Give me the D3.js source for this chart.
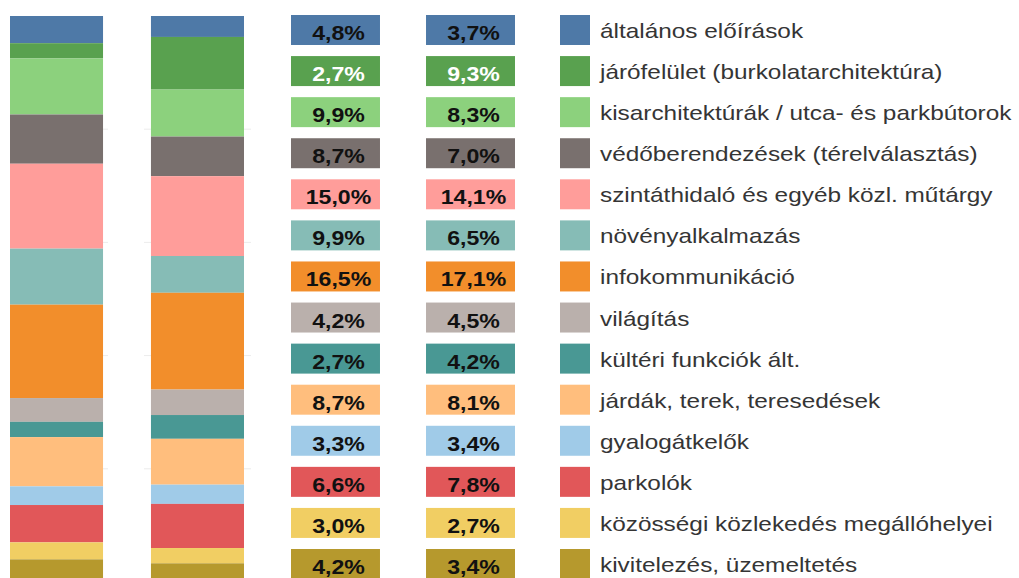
<!DOCTYPE html>
<html>
<head>
<meta charset="utf-8">
<title>Stacked shares</title>
<script src="https://d3js.org/d3.v7.min.js"></script>
<style>
  body { margin: 0; background: #fff; }
  svg { display: block; }
</style>
</head>
<body>
<div id="chart"></div>
<script>

// categories, top to bottom
var categories = [
  "általános előírások",
  "járófelület (burkolatarchitektúra)",
  "kisarchitektúrák / utca- és parkbútorok",
  "védőberendezések (térelválasztás)",
  "szintáthidaló és egyéb közl. műtárgy",
  "növényalkalmazás",
  "infokommunikáció",
  "világítás",
  "kültéri funkciók ált.",
  "járdák, terek, teresedések",
  "gyalogátkelők",
  "parkolók",
  "közösségi közlekedés megállóhelyei",
  "kivitelezés, üzemeltetés"
];
var leftValues  = [4.8, 2.7, 9.9, 8.7, 15.0, 9.9, 16.5, 4.2, 2.7, 8.7, 3.3, 6.6, 3.0, 4.2];
var rightValues = [3.7, 9.3, 8.3, 7.0, 14.1, 6.5, 17.1, 4.5, 4.2, 8.1, 3.4, 7.8, 2.7, 3.4];
var gridTicks = [20, 40, 60, 80];

var palette = ["#4E79A7", "#59A14F", "#8CD17D", "#79706E", "#FF9D9A", "#86BCB6", "#F28E2B",
               "#BAB0AC", "#499894", "#FFBE7D", "#A0CBE8", "#E15759", "#F1CE63", "#B6992D"];

var W = 1019, H = 578;
var svg = d3.select("#chart").append("svg").attr("width", W).attr("height", H);

var color = d3.scaleOrdinal().domain(categories).range(palette);
var y = d3.scaleLinear().domain([0, 100]).range([16, 582]);
var x = d3.scaleBand().domain(["left", "right"]).range([10, 244]).paddingInner(0.34);

// faint grid stubs beside the bars
gridTicks.forEach(function(t) {
  [[101, 108], [144, 151], [244, 251]].forEach(function(seg) {
    svg.append("line")
      .attr("x1", seg[0]).attr("x2", seg[1])
      .attr("y1", y(t)).attr("y2", y(t))
      .attr("stroke", "#ececec").attr("stroke-width", 1);
  });
});

function stackOf(vals) {
  var acc = 0;
  return vals.map(function(v, i) {
    var d = { cat: categories[i], y0: acc, y1: acc + v };
    acc += v;
    return d;
  });
}

[["left", leftValues], ["right", rightValues]].forEach(function(s) {
  svg.append("g").selectAll("rect")
    .data(stackOf(s[1]))
    .enter().append("rect")
    .attr("x", x(s[0]))
    .attr("width", x.bandwidth())
    .attr("y", function(d) { return y(d.y0); })
    .attr("height", function(d) { return y(d.y1) - y(d.y0); })
    .attr("fill", function(d) { return color(d.cat); });
});

// value boxes + legend rows
var row = d3.scaleBand().domain(categories).range([15, 579]).paddingInner(0.27).paddingOuter(0);
var boxCols = d3.scaleBand().domain(["left", "right"]).range([291, 515]).paddingInner(0.341);
var fmt = function(v) { return v.toFixed(1).replace(".", ",") + "%"; };
var whiteText = { "járófelület (burkolatarchitektúra)": true };

[["left", leftValues], ["right", rightValues]].forEach(function(s) {
  var g = svg.append("g").selectAll("g")
    .data(categories)
    .enter().append("g")
    .attr("transform", function(c) { return "translate(" + boxCols(s[0]) + "," + row(c) + ")"; });
  g.append("rect")
    .attr("width", boxCols.bandwidth())
    .attr("height", row.bandwidth())
    .attr("fill", function(c) { return color(c); });
  g.append("text")
    .attr("transform", "translate(" + (boxCols.bandwidth() / 2 + 3) + "," + (row.bandwidth() / 2 + 10) + ") scale(1.1,1)")
    .attr("text-anchor", "middle")
    .style("font-family", "'Liberation Sans', Arial, sans-serif")
    .style("font-weight", "bold")
    .style("font-size", "21px")
    .attr("fill", function(c) { return whiteText[c] ? "#fff" : "#111"; })
    .text(function(c, i) { return fmt(s[1][i]); });
});

var leg = svg.append("g").selectAll("g")
  .data(categories)
  .enter().append("g")
  .attr("transform", function(c) { return "translate(560," + row(c) + ")"; });
leg.append("rect")
  .attr("width", 30)
  .attr("height", row.bandwidth())
  .attr("fill", function(c) { return color(c); });
leg.append("text")
  .attr("transform", "translate(40," + (row.bandwidth() / 2 + 8) + ") scale(1.16,1)")
  .style("font-family", "'Liberation Sans', Arial, sans-serif")
  .style("font-size", "21px")
  .attr("fill", "#353535")
  .text(function(c) { return c; });

</script>
</body>
</html>
